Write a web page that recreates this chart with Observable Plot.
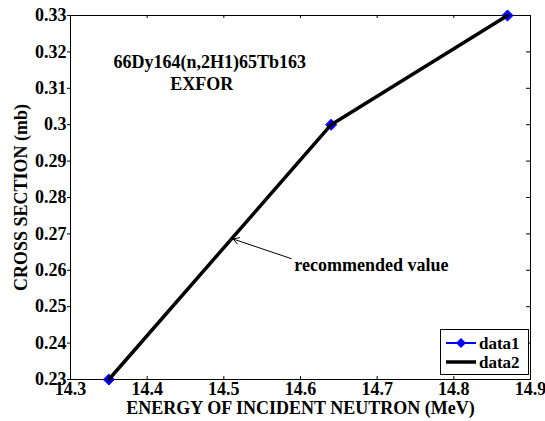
<!DOCTYPE html>
<html>
<head>
<meta charset="utf-8">
<script src="https://cdn.jsdelivr.net/npm/d3@7"></script>
<script src="https://cdn.jsdelivr.net/npm/@observablehq/plot@0.6"></script>
<style>
  body { margin: 0; background: #fff; }
  #chart { position: relative; width: 545px; height: 421px; }
  #legend { position: absolute; left: 440px; top: 329px; }
  #chart svg text { font-family: "Liberation Serif", "Times New Roman", serif; font-weight: bold; }
</style>
</head>
<body>
<div id="chart"></div>
<script>
// Incident neutron energy (MeV) and cross sections (mb)
const energy = [14.35, 14.64, 14.87];
const data1 = [0.23, 0.30, 0.33];
const data2 = [0.23, 0.30, 0.33];
const seriesNames = ["data1", "data2"];

// Axis ticks
const xTicks = [14.3, 14.4, 14.5, 14.6, 14.7, 14.8, 14.9];
const yTicks = [0.23, 0.24, 0.25, 0.26, 0.27, 0.28, 0.29, 0.30, 0.31, 0.32, 0.33];

// Annotations (data coordinates)
const titleLines = ["66Dy164(n,2H1)65Tb163", "EXFOR"];
const titleX = [14.356, 14.430];
const titleY = [0.3171, 0.3111];
const noteText = "recommended value";
const notePos = [14.592, 0.2613];
const arrowTail = [14.588, 0.2632];
const arrowTip = [14.512, 0.2686];

const W = 545, H = 421;
const mL = 70, mR = 15, mT = 15, mB = 42;
const plotW = W - mL - mR, plotH = H - mT - mB;
const font = "Liberation Serif, Times New Roman, serif";
const textStyle = {fontFamily: font, fontWeight: "bold", fontSize: 18, fill: "black"};

const rows1 = energy.map((x, i) => ({x, y: data1[i]}));
const rows2 = energy.map((x, i) => ({x, y: data2[i]}));
const titles = titleLines.map((t, i) => ({t, x: titleX[i], y: titleY[i]}));

const chart = Plot.plot({
  width: W, height: H,
  marginLeft: mL, marginRight: mR, marginTop: mT, marginBottom: mB,
  style: {fontFamily: font, fontWeight: "bold", fontSize: "18px", color: "black", background: "white"},
  x: {domain: [14.3, 14.9]},
  y: {domain: [0.23, 0.33]},
  marks: [
    Plot.frame({stroke: "black", strokeWidth: 1}),
    Plot.axisX(xTicks, {
      ...textStyle, tickSize: 0, tickPadding: 3, tickFormat: d3.format(".1f"),
      label: "ENERGY OF INCIDENT NEUTRON (MeV)", labelAnchor: "center", labelArrow: "none", labelOffset: 34
    }),
    Plot.axisY(yTicks, {
      ...textStyle, tickSize: 3, tickPadding: 1, tickFormat: d3.format(".2~f"),
      label: "CROSS SECTION (mb)", labelAnchor: "center", labelArrow: "none", labelOffset: 56
    }),
    // inward ticks on the bottom, top and right edges
    Plot.tickX(xTicks, {x: d => d, insetTop: plotH - 3, stroke: "black"}),
    Plot.tickX(xTicks, {x: d => d, insetBottom: plotH - 3, stroke: "black"}),
    Plot.tickY(yTicks, {y: d => d, insetLeft: plotW - 4, stroke: "black"}),
    // data1: blue line with diamond markers
    Plot.line(rows1, {x: "x", y: "y", stroke: "#0000ff", strokeWidth: 2}),
    Plot.dot(rows1, {x: "x", y: "y", symbol: "diamond2", r: 5, fill: "#0000ff", stroke: "#0000ff", strokeWidth: 1}),
    // data2: thick black line
    Plot.line(rows2, {x: "x", y: "y", stroke: "black", strokeWidth: 3.5}),
    Plot.text(titles, {x: "x", y: "y", text: "t", textAnchor: "start", lineAnchor: "middle", ...textStyle}),
    Plot.arrow([{}], {
      x1: () => arrowTail[0], y1: () => arrowTail[1], x2: () => arrowTip[0], y2: () => arrowTip[1],
      stroke: "black", strokeWidth: 1, headLength: 10, bend: false
    }),
    Plot.text([noteText], {x: () => notePos[0], y: () => notePos[1], text: d => d, textAnchor: "start", lineAnchor: "middle", ...textStyle})
  ]
});

const holder = document.getElementById("chart");
holder.appendChild(chart);

// legend box
const lg = d3.create("svg").attr("id", "legend").attr("width", 89).attr("height", 46)
  .style("font-family", font).style("font-weight", "bold").style("font-size", "17px");
lg.append("rect").attr("x", 0.5).attr("y", 0.5).attr("width", 88).attr("height", 45)
  .attr("fill", "white").attr("stroke", "black");
const styles = [{stroke: "#0000ff", w: 2, marker: true}, {stroke: "black", w: 3.5, marker: false}];
seriesNames.forEach((name, i) => {
  const cy = 14 + i * 19;
  const s = styles[i];
  lg.append("line").attr("x1", 6).attr("x2", 36).attr("y1", cy).attr("y2", cy)
    .attr("stroke", s.stroke).attr("stroke-width", s.w);
  if (s.marker) {
    lg.append("path").attr("d", `M21,${cy - 5}L26,${cy}L21,${cy + 5}L16,${cy}Z`).attr("fill", "#0000ff");
  }
  lg.append("text").attr("x", 39).attr("y", cy).attr("dy", "0.35em").text(name);
});
holder.appendChild(lg.node());
</script>
</body>
</html>
